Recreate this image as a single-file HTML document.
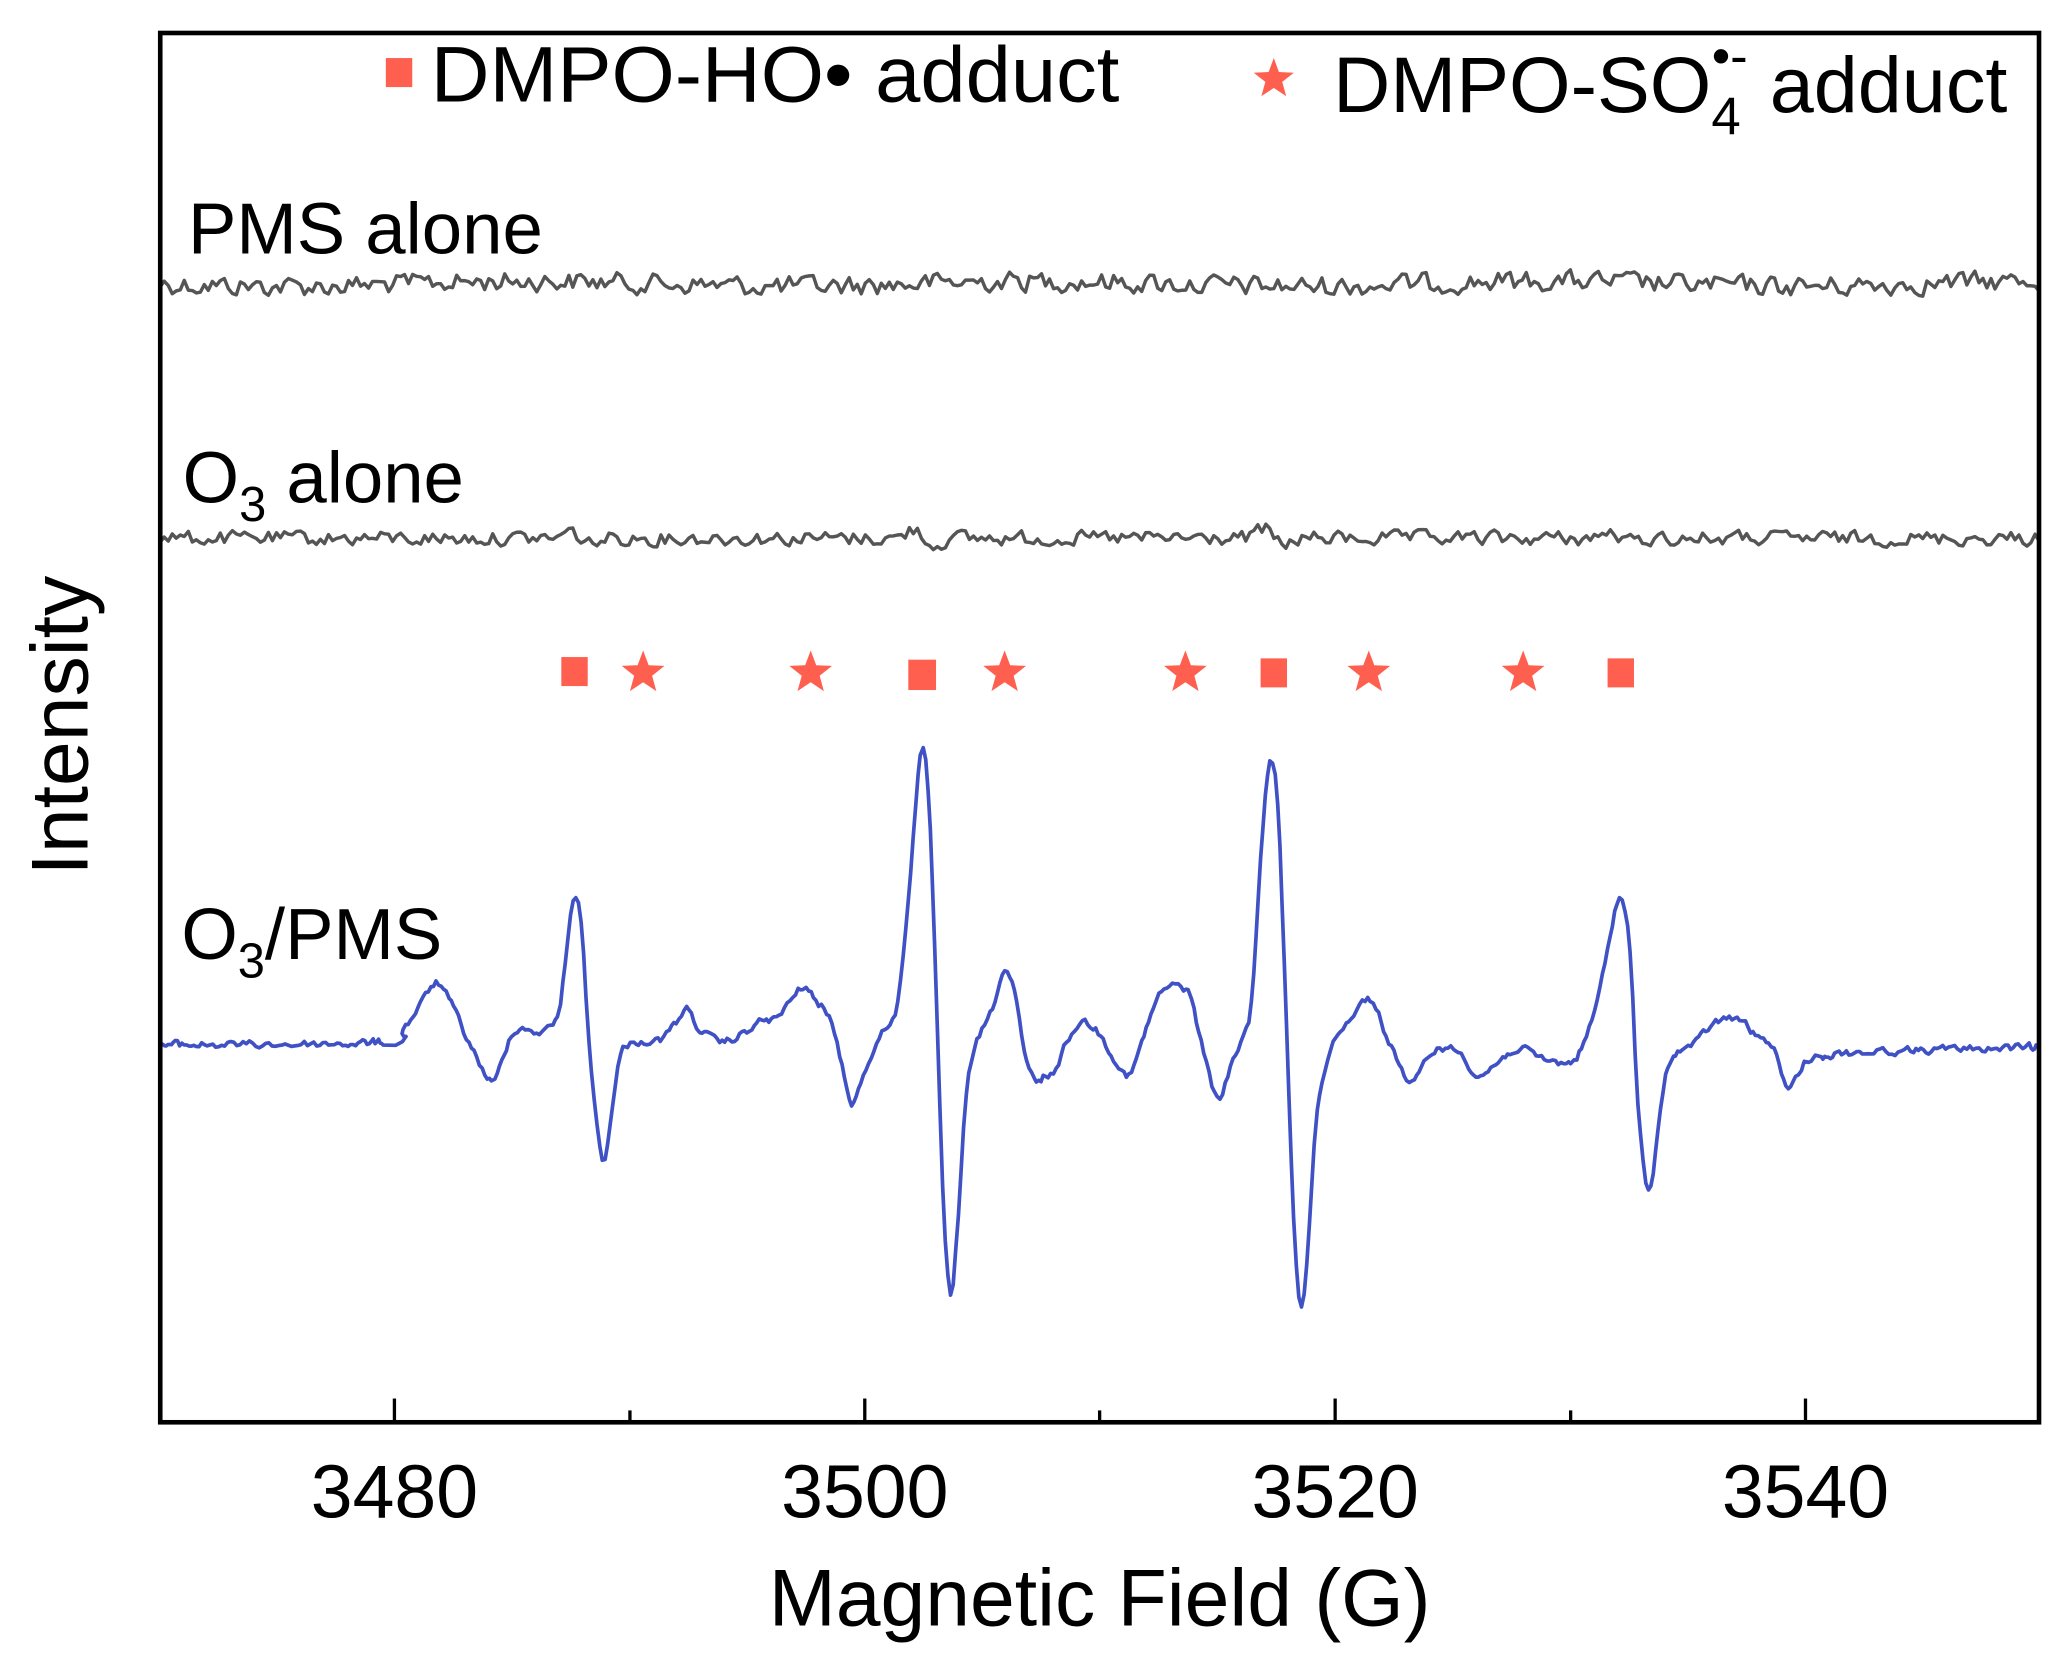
<!DOCTYPE html>
<html><head><meta charset="utf-8"><style>
html,body{margin:0;padding:0;background:#fff;}
svg{display:block;}
text{font-family:"Liberation Sans",Arial,sans-serif;fill:#000;}
</style></head><body>
<svg id="s" width="2066" height="1669" viewBox="0 0 1565 1265" xmlns="http://www.w3.org/2000/svg">
<rect x="0" y="0" width="1565" height="1265" fill="#fff"/>
<g id="traces"></g>
<rect x="121" y="25" width="1424" height="1053" fill="none" stroke="#000" stroke-width="3.5"/>
<g stroke="#000" stroke-width="2.5">
<line x1="298.5" y1="1078" x2="298.5" y2="1060"/>
<line x1="655" y1="1078" x2="655" y2="1060"/>
<line x1="1011.5" y1="1078" x2="1011.5" y2="1060"/>
<line x1="1368" y1="1078" x2="1368" y2="1060"/>
<line x1="477" y1="1078" x2="477" y2="1069"/>
<line x1="833" y1="1078" x2="833" y2="1069"/>
<line x1="1190" y1="1078" x2="1190" y2="1069"/>
</g>
<g font-size="57" text-anchor="middle">
<text x="298.5" y="1150">3480</text>
<text x="655" y="1150">3500</text>
<text x="1011.5" y="1150">3520</text>
<text x="1368" y="1150">3540</text>
</g>
<text x="833" y="1232" font-size="61" text-anchor="middle">Magnetic Field (G)</text>
<text x="0" y="0" font-size="61" text-anchor="middle" transform="translate(66,550) rotate(-90)">Intensity</text>
<rect x="292" y="44" width="20" height="22" fill="#ff5f4f"/>
<text x="326" y="77" font-size="60" textLength="522" lengthAdjust="spacingAndGlyphs">DMPO-HO• adduct</text>
<g id="stars"></g>
<text x="1010" y="85" font-size="60">DMPO-SO<tspan font-size="40" dy="17">4</tspan><tspan font-size="40" dx="-22" dy="-46">•-</tspan><tspan font-size="60" dy="29"> adduct</tspan></text>
<text x="142" y="192" font-size="55">PMS alone</text>
<text x="138" y="381" font-size="55">O<tspan font-size="37" dy="14">3</tspan><tspan dy="-14"> alone</tspan></text>
<text x="137" y="727" font-size="55">O<tspan font-size="37" dy="14">3</tspan><tspan dy="-14">/PMS</tspan></text>
<g fill="#ff5f4f">
<rect x="425" y="498" width="20" height="22"/>
<rect x="688" y="500" width="21" height="23"/>
<rect x="955" y="499" width="20" height="22"/>
<rect x="1218" y="499" width="20" height="22"/>
</g>
</svg>
<script>
(function(){
var NS="http://www.w3.org/2000/svg";
var seed=12345;function rnd(){seed=(seed*1103515245+12345)%2147483648;return seed/2147483648;}
function star(cx,cy,R){var r=R*0.42,p=[];for(var i=0;i<10;i++){var a=-Math.PI/2+i*Math.PI/5,rr=i%2?r:R;p.push((cx+rr*Math.cos(a)).toFixed(1)+","+(cy+rr*Math.sin(a)).toFixed(1));}
var el=document.createElementNS(NS,"polygon");el.setAttribute("points",p.join(" "));el.setAttribute("fill","#ff5f4f");document.getElementById("stars").appendChild(el);}
star(965,60,16);
[487,614,761,898,1037,1154].forEach(function(x){star(x,510,17);});
function noise(n,amp){var a=[],v=0;for(var i=0;i<n;i++){v=0.35*v+(rnd()-0.5)*amp;a.push(v);}return a;}
function addPath(d,col,w){var el=document.createElementNS(NS,"path");el.setAttribute("d",d);el.setAttribute("fill","none");el.setAttribute("stroke",col);el.setAttribute("stroke-width",w);el.setAttribute("stroke-linejoin","round");document.getElementById("traces").appendChild(el);}
var n=470,nz=noise(n,14),d="";
for(var i=0;i<n;i++){var x=121+i*(1424/(n-1));var y=215+nz[i]+2*Math.sin(i*0.05);d+=(i?"L":"M")+x.toFixed(1)+","+y.toFixed(1);}
addPath(d,"#555","2.6");
var bumps=[[432,-5,8],[693,-7,8],[958,-7,8],[1220,-4,9]];
nz=noise(n,10);d="";
for(var i=0;i<n;i++){var x=121+i*(1424/(n-1));var y=408+nz[i];
bumps.forEach(function(b){var t=(x-b[0])/b[2];y+=b[1]*Math.exp(-t*t)-b[1]*0.8*Math.exp(-Math.pow((x-b[0]-14)/8,2));});
d+=(i?"L":"M")+x.toFixed(1)+","+y.toFixed(1);}
addPath(d,"#555","2.6");
var k=[[121,792],[290,790],[305,780],[318,762],[330,745],[340,758],[355,790],[372,820],[380,805],[390,780],[410,782],[422,770],[428,730],[434,680],[440,700],[446,790],[456,880],[462,850],[470,800],[480,790],[500,788],[512,775],[520,765],[530,780],[545,790],[560,785],[575,775],[590,770],[608,748],[618,760],[628,770],[636,800],[645,835],[652,820],[660,800],[670,780],[680,760],[688,680],[697,575],[703,600],[708,720],[714,900],[720,980],[726,920],[732,830],[740,790],[750,770],[761,736],[770,760],[776,800],[785,820],[792,815],[800,810],[808,790],[818,775],[830,780],[840,795],[855,815],[865,790],[880,752],[900,752],[910,790],[922,832],[932,810],[940,790],[948,760],[955,650],[962,578],[968,610],[973,730],[980,920],[986,990],[992,930],[998,840],[1010,790],[1020,775],[1038,757],[1050,785],[1060,805],[1070,822],[1085,797],[1105,797],[1120,815],[1135,805],[1150,795],[1170,803],[1190,805],[1200,790],[1210,760],[1218,720],[1227,680],[1235,720],[1241,840],[1249,903],[1256,860],[1262,815],[1268,800],[1285,790],[1300,775],[1318,773],[1330,785],[1340,790],[1348,805],[1355,828],[1365,810],[1380,800],[1450,796],[1545,794]];
var pts=[];
for(var j=0;j<k.length-1;j++){var p0=k[Math.max(0,j-1)],p1=k[j],p2=k[j+1],p3=k[Math.min(k.length-1,j+2)];
var steps=Math.max(2,Math.round((p2[0]-p1[0])/2));
for(var s=0;s<steps;s++){var t=s/steps,t2=t*t,t3=t2*t;
var x=0.5*((2*p1[0])+(-p0[0]+p2[0])*t+(2*p0[0]-5*p1[0]+4*p2[0]-p3[0])*t2+(-p0[0]+3*p1[0]-3*p2[0]+p3[0])*t3);
var y=0.5*((2*p1[1])+(-p0[1]+p2[1])*t+(2*p0[1]-5*p1[1]+4*p2[1]-p3[1])*t2+(-p0[1]+3*p1[1]-3*p2[1]+p3[1])*t3);
pts.push([x,y]);}}
pts.push(k[k.length-1]);
d="";var v=0;
for(var i=0;i<pts.length;i++){v=0.5*v+(rnd()-0.5)*5;d+=(i?"L":"M")+pts[i][0].toFixed(1)+","+(pts[i][1]+v).toFixed(1);}
addPath(d,"#3f51c4","2.8");
})();
</script>
</body></html>
